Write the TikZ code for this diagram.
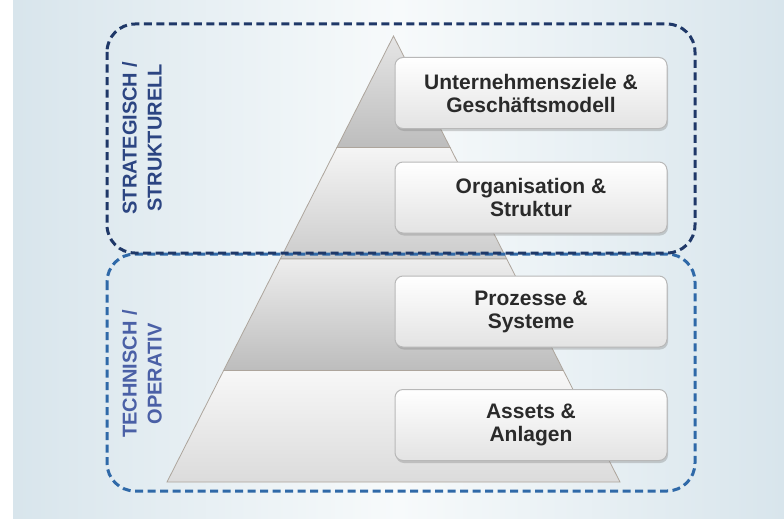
\documentclass[tikz,border=0pt]{standalone}
\usepackage{fontspec}
\setmainfont{Liberation Sans}
\usetikzlibrary{shadows}
\definecolor{bgA}{HTML}{D8E5EC}
\definecolor{bgMid}{HTML}{F7FAFB}
\definecolor{navy}{HTML}{1F3868}
\definecolor{midblue}{HTML}{2F69A8}
\definecolor{lblA}{HTML}{2C4582}
\definecolor{lblB}{HTML}{4A60A6}
\definecolor{edge}{HTML}{ADA59C}
\definecolor{txt}{HTML}{2A2A2A}
\tikzset{
  zone/.style={line width=3pt, dash pattern=on 8pt off 4.5pt, rounded corners=28pt},
  tier/.style={draw=edge, line width=0.8pt},
  levelbox/.style={draw=black!28, line width=1pt, rounded corners=8pt,
    top color=white, bottom color=black!11,
    minimum width=272pt, minimum height=71pt, align=center, text=txt,
    font=\fontsize{21}{23}\selectfont\bfseries,
    drop shadow={shadow xshift=1pt, shadow yshift=-2.5pt, opacity=0.35}},
  sidelabel/.style={rotate=90, align=center,
    font=\fontsize{20}{25}\selectfont\bfseries}
}
\begin{document}
\begin{tikzpicture}[x=1pt,y=-1pt]
\useasboundingbox (0,0) rectangle (784,519);
\fill[white] (0,0) rectangle (784,519);
\shade[left color=bgA,right color=bgA,middle color=bgMid] (13,0) rectangle (784,519);

% pyramid tiers
\shade[tier, top color=black!10, bottom color=black!26]
  (393.5,36) -- (450.1,147.5) -- (336.9,147.5) -- cycle;
\shade[tier, top color=black!4, bottom color=black!20]
  (336.9,147.5) -- (450.1,147.5) -- (506.75,259) -- (280.25,259) -- cycle;
\shade[tier, top color=black!7, bottom color=black!26]
  (280.25,259) -- (506.75,259) -- (563.4,370.5) -- (223.6,370.5) -- cycle;
\shade[tier, top color=black!3, bottom color=black!14]
  (223.6,370.5) -- (563.4,370.5) -- (620,482) -- (167,482) -- cycle;

% zones
\draw[zone, midblue] (107,254) rectangle (695,491);
\draw[zone, navy] (107,24) rectangle (695,253);

\node[sidelabel, text=lblA] (strat) at (142,138) {STRATEGISCH /\\STRUKTURELL};
\node[sidelabel, text=lblB] (tech) at (142,374) {TECHNISCH /\\OPERATIV};

% level boxes
\node[levelbox] (ziele) at (531,93) {Unternehmensziele \&\\Geschäftsmodell};
\node[levelbox] (org) at (531,197.5) {Organisation \&\\Struktur};
\node[levelbox] (proz) at (531,311.5) {Prozesse \&\\Systeme};
\node[levelbox] (assets) at (531,425) {Assets \&\\Anlagen};
\end{tikzpicture}
\end{document}
